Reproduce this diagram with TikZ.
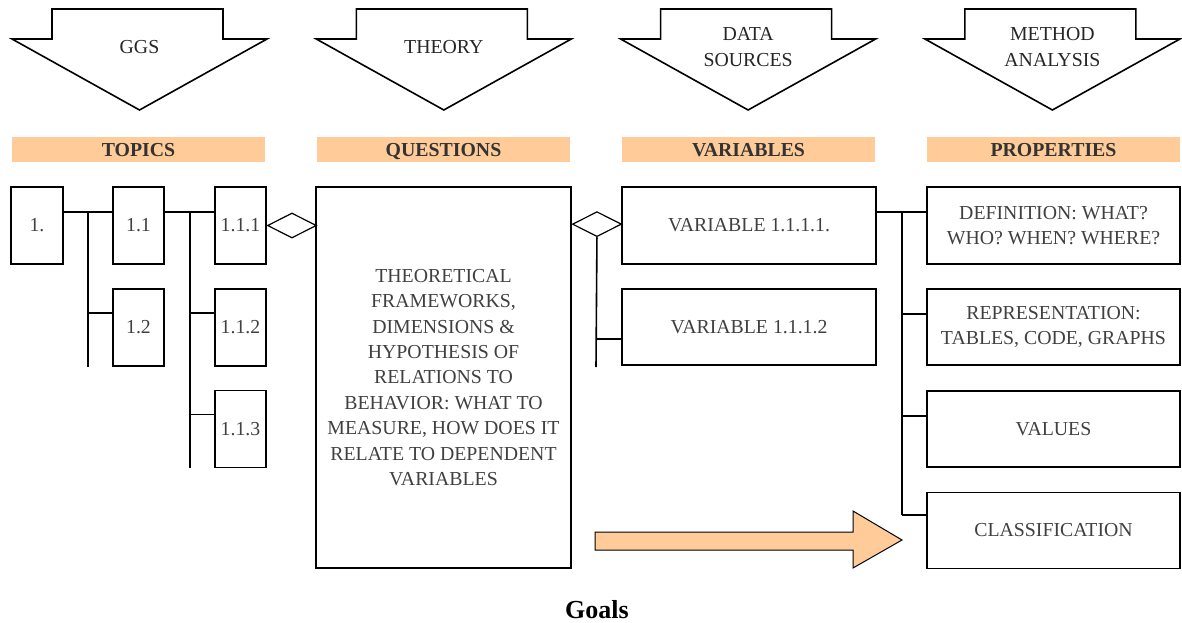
\documentclass[tikz,border=0pt]{standalone}
\usepackage{fontspec}
\setmainfont{Liberation Serif}
\usetikzlibrary{shapes.geometric,calc}
\definecolor{peach}{RGB}{255,204,153}
\definecolor{ink}{RGB}{64,64,64}
\definecolor{headink}{RGB}{51,51,51}

\begin{document}
\begin{tikzpicture}[x=1pt,y=-1pt,
  txt/.style={font=\fontsize{19.8}{25.4}\selectfont, text=ink, align=center},
  box/.style={draw=black, line width=1.7pt, txt, inner sep=0pt},
  small/.style={box, minimum width=51pt, minimum height=77pt},
  wide/.style={box, minimum width=254pt, minimum height=76pt},
  link/.style={line width=1.6pt},
  joint/.style={diamond, draw=black, line width=1.2pt, fill=white,
                minimum width=49pt, minimum height=25pt, inner sep=0pt, anchor=west},
  bar/.style={fill=peach, minimum width=253pt, minimum height=25pt, inner sep=0pt,
              text height=13.5pt, text depth=0pt,
              font=\fontsize{19.8}{24}\selectfont\bfseries, text=headink},
  flow/.style={draw=black, line width=1.6pt, fill=white},
]
\useasboundingbox (0,0) rectangle (1182,623);

% ---- downward block arrows with their headings ----
\foreach \k/\lbl [count=\i] in {0/GGS, 1/THEORY, 2/{DATA\\SOURCES}, 3/{METHOD\\ANALYSIS}} {
  \pgfmathsetmacro{\wl}{12+304.3*\k}
  \draw[flow] (\wl,39) -- ++(40,0) -- ++(0,-30) -- ++(171,0) -- ++(0,30)
              -- ++(44,0) -- (\wl+127.5,110) -- cycle;
  \node[txt, text=black!85] (arrowlabel\i) at (\wl+127.5,47) {\lbl};
}

\node[bar] (topics)     at (138.5,149.5)  {TOPICS};
\node[bar] (questions)  at (443.5,149.5)  {QUESTIONS};
\node[bar] (variables)  at (748.5,149.5)  {VARIABLES};
\node[bar] (properties) at (1053.5,149.5) {PROPERTIES};

% ---- topic tree ----
\node[small, minimum width=52pt] (b1) at (37,225.5)  {1.};
\node[small] (b11)  at (138.5,225.5) {1.1};
\node[small] (b12)  at (138.5,327.5) {1.2};
\node[small] (b111) at (240.5,225.5) {1.1.1};
\node[small] (b112) at (240.5,327.5) {1.1.2};
\node[small] (b113) at (240.5,429)   {1.1.3};

\coordinate (t1top) at (88,213);
\coordinate (t1bot) at (88,367);
\coordinate (t2top) at (190,213);
\coordinate (t2bot) at (190,468);

\draw[link] ([yshift=-26pt]b1.north east) -- ([yshift=-26pt]b11.north west);
\draw[link] (t1top) -- (t1bot);
\draw[link] (t1top |- b12.north west) ++(0,25) -- ([yshift=-25pt]b12.north west);
\draw[link] ([yshift=-26pt]b11.north east) -- ([yshift=-26pt]b111.north west);
\draw[link] (t2top) -- (t2bot);
\draw[link] (t2top |- b112.north west) ++(0,25) -- ([yshift=-25pt]b112.north west);
\draw[link] (t2top |- b113.north west) ++(0,25) -- ([yshift=-25pt]b113.north west);

% ---- questions ----
\node[box, minimum width=255pt, minimum height=381pt] (theory) at (443.5,377.5)
  {THEORETICAL\\FRAMEWORKS,\\DIMENSIONS \&\\HYPOTHESIS OF\\RELATIONS TO\\
   BEHAVIOR: WHAT TO\\MEASURE, HOW DOES IT\\RELATE TO DEPENDENT\\VARIABLES};

\node[joint] (d1) at (b111.east) {};

% ---- variables ----
\node[wide, minimum height=77pt] (var1) at (749,225.5) {VARIABLE 1.1.1.1.};
\node[wide] (var2) at (749,327) {VARIABLE 1.1.1.2};

\node[joint] (d2) at ([yshift=-38pt]theory.north east) {};
\coordinate (vbot) at (596,367);
\draw[link] (d2.south) -- (vbot);
\draw[link] (vbot |- var2.north west) ++(0,51) -- ([yshift=-51pt]var2.north west);

% ---- properties ----
\node[wide, minimum width=253pt, minimum height=77pt] (p1) at (1053.5,225.5) {DEFINITION: WHAT?\\WHO? WHEN? WHERE?};
\node[wide, minimum width=253pt] (p2) at (1053.5,327)   {REPRESENTATION:\\TABLES, CODE, GRAPHS};
\node[wide, minimum width=253pt] (p3) at (1053.5,429)   {VALUES};
\node[wide, minimum width=253pt] (p4) at (1053.5,530.5) {CLASSIFICATION};

\coordinate (ptop) at (902,213);
\coordinate (pbot) at (902,515);
\draw[link] ([yshift=-26pt]var1.north east) -- ([yshift=-26pt]p1.north west);
\draw[link] (ptop) -- (pbot);
\draw[link] (ptop |- p2.north west) ++(0,26) -- ([yshift=-26pt]p2.north west);
\draw[link] (ptop |- p3.north west) ++(0,26) -- ([yshift=-26pt]p3.north west);
\draw[link] (pbot) -- (pbot -| p4.west);

% ---- goals arrow ----
\draw[fill=peach, draw=black, line width=1pt]
  (595,532) -- (853,532) -- (853,511) -- (902,540) -- (853,568) -- (853,550) -- (595,550) -- cycle;
\node[font=\fontsize{26}{30}\selectfont\bfseries] (goals) at (597,610) {Goals};
\end{tikzpicture}
\end{document}
